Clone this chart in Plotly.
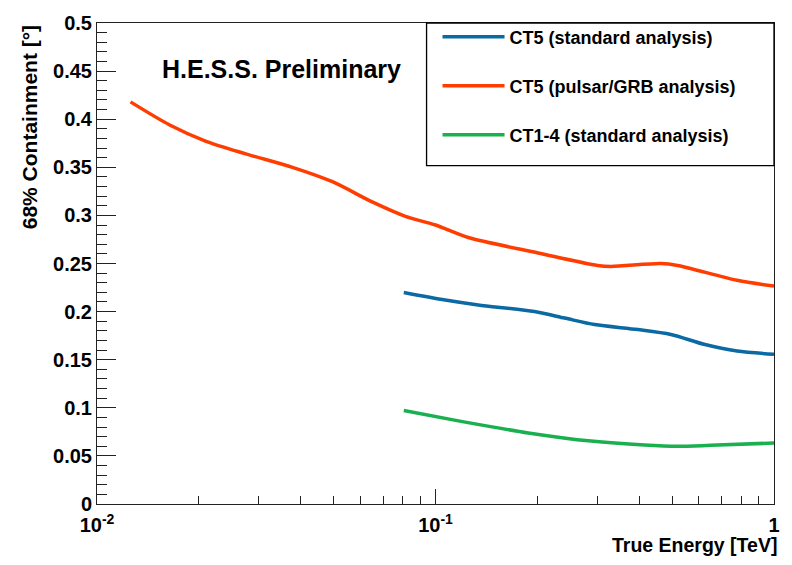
import plotly.graph_objects as go

# ---- data ----
red_x = [0.01256, 0.0164, 0.0210, 0.0275, 0.0378, 0.0496, 0.065, 0.0815, 0.100, 0.125, 0.201, 0.301, 0.330, 0.464, 0.519, 0.778, 1.0]
red_y = [0.418, 0.394, 0.377, 0.364, 0.350, 0.335, 0.314, 0.299, 0.290, 0.277, 0.261, 0.248, 0.247, 0.250, 0.248, 0.2325, 0.2265]

blue_x = [0.0806, 0.1068, 0.1337, 0.196, 0.2405, 0.295, 0.396, 0.496, 0.621, 0.778, 1.0]
blue_y = [0.2198, 0.212, 0.2069, 0.200, 0.1933, 0.1865, 0.1813, 0.1762, 0.166, 0.159, 0.1557]

green_x = [0.0806, 0.119, 0.188, 0.288, 0.414, 0.519, 0.650, 1.0]
green_y = [0.0971, 0.0859, 0.0739, 0.0654, 0.0613, 0.0600, 0.0610, 0.0634]

series_names = ["CT5 (standard analysis)", "CT5 (pulsar/GRB analysis)", "CT1-4 (standard analysis)"]
x_tickvals = [0.01, 0.1, 1]
x_ticktext = ["10<sup>-2</sup>", "10<sup>-1</sup>", "1"]
x_minor = [0.02, 0.03, 0.04, 0.05, 0.06, 0.07, 0.08, 0.09, 0.2, 0.3, 0.4, 0.5, 0.6, 0.7, 0.8, 0.9]
y_tickvals = [0, 0.05, 0.1, 0.15, 0.2, 0.25, 0.3, 0.35, 0.4, 0.45, 0.5]
y_ticktext = ["0", "0.05", "0.1", "0.15", "0.2", "0.25", "0.3", "0.35", "0.4", "0.45", "0.5"]

FONT = "Liberation Sans, Arial, Helvetica, sans-serif"
BLUE = "#0b69a3"
RED = "#ff3d00"
GREEN = "#1bb04f"

fig = go.Figure()
for xs, ys, name, col, grp in [
    (blue_x, blue_y, series_names[0], BLUE, "a"),
    (red_x, red_y, series_names[1], RED, "b"),
    (green_x, green_y, series_names[2], GREEN, "c"),
]:
    fig.add_trace(go.Scatter(x=xs, y=ys, mode="lines", name=name, legendgroup=grp,
                             line=dict(color=col, width=3.5, shape="spline", smoothing=0.8)))

fig.update_layout(
    width=792, height=565,
    margin=dict(l=97, r=15, t=15, b=61),
    paper_bgcolor="white", plot_bgcolor="white",
    font=dict(family=FONT, size=20, color="black", weight="bold"),
    showlegend=True,
    legend=dict(x=0.503, y=1.009, xanchor="left", yanchor="top",
                bgcolor="rgba(0,0,0,0)", borderwidth=0,
                font=dict(family=FONT, size=18, color="black", weight="bold"),
                itemwidth=62, traceorder="grouped", tracegroupgap=22.5),
    xaxis=dict(type="log", range=[-2, 0], tickvals=x_tickvals, ticktext=x_ticktext,
               ticks="inside", ticklen=15, tickwidth=1, tickcolor="#222",
               showline=True, linecolor="#222", linewidth=1, mirror=True,
               showgrid=False, zeroline=False, ticklabelstandoff=3,
               tickfont=dict(family=FONT, size=20, color="black", weight="bold"),
               minor=dict(tickvals=x_minor, ticks="inside", ticklen=8, tickwidth=1, tickcolor="#222", showgrid=False)),
    yaxis=dict(range=[0, 0.5], tickvals=y_tickvals, ticktext=y_ticktext,
               ticks="inside", ticklen=19, tickwidth=1, tickcolor="#222",
               showline=True, linecolor="#222", linewidth=1, mirror=True,
               showgrid=False, zeroline=False,
               tickfont=dict(family=FONT, size=20, color="black", weight="bold"),
               minor=dict(dtick=0.01, ticks="inside", ticklen=10, tickwidth=1, tickcolor="#222", showgrid=False)),
    shapes=[dict(type="rect", xref="paper", yref="paper", x0=0.4868, x1=1, y0=0.7035, y1=1,
                 line=dict(color="black", width=1.3), fillcolor="rgba(0,0,0,0)")],
    annotations=[
        dict(text="H.E.S.S. Preliminary", xref="paper", yref="paper", x=0.0926, y=0.904,
             xanchor="left", yanchor="middle", showarrow=False,
             font=dict(family=FONT, size=25, color="black", weight="bold")),
        dict(text="True Energy [TeV]", xref="paper", yref="paper", x=1.007, y=-0.0859,
             xanchor="right", yanchor="middle", showarrow=False,
             font=dict(family=FONT, size=19.5, color="black", weight="bold")),
        dict(text="68% Containment [°]", xref="paper", yref="paper", x=-0.1, y=1.0,
             xanchor="center", yanchor="top", textangle=-90, showarrow=False,
             font=dict(family=FONT, size=21, color="black", weight="bold")),
    ],
)

fig.write_html("out.html")
